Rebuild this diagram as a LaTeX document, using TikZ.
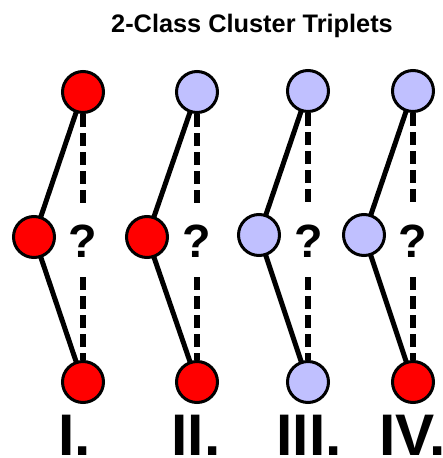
\documentclass[tikz,border=0pt]{standalone}
\usepackage{fontspec}
\setmainfont{Liberation Sans}
\usetikzlibrary{backgrounds}
\definecolor{clsred}{HTML}{FF0000}
\definecolor{clsblue}{HTML}{C0C0FF}
\tikzset{
  pt/.style={circle, draw=black, line width=2.25pt, minimum size=30.75pt, inner sep=0pt},
  redpt/.style={pt, fill=clsred},
  bluept/.style={pt, fill=clsblue},
  link/.style={line width=3.75pt, black},
  unknown/.style={line width=4.2pt, black, dash pattern=on 9.75pt off 4.5pt},
  qmark/.style={anchor=base, inner sep=0pt, font=\bfseries\fontsize{35}{35}\selectfont},
  roman/.style={anchor=base, inner sep=0pt, font=\bfseries\fontsize{44}{44}\selectfont},
}
\begin{document}
\begin{tikzpicture}[x=0.75pt, y=-0.75pt]
  \useasboundingbox (0,0) rectangle (443,458);

  \node[anchor=base, font=\bfseries\fontsize{19}{19}\selectfont] (title) at (252,32) {2-Class Cluster Triplets};

  % triplet I
  \node[redpt] (t1) at (83,92) {};
  \node[redpt] (m1) at (34,237) {};
  \node[redpt] (b1) at (83,382) {};
  \node[qmark] (q1) at (83,257) {?};
  \node[roman] (l1) at (74.5,455) {I.};

  % triplet II
  \node[bluept] (t2) at (197,92) {};
  \node[redpt] (m2) at (147,237) {};
  \node[redpt] (b2) at (197,382) {};
  \node[qmark] (q2) at (197,257) {?};
  \node[roman] (l2) at (196,455) {II.};

  % triplet III
  \node[bluept] (t3) at (308,91) {};
  \node[bluept] (m3) at (259,235) {};
  \node[bluept] (b3) at (308,382) {};
  \node[qmark] (q3) at (309,257) {?};
  \node[roman] (l3) at (309,455) {III.};

  % triplet IV
  \node[bluept] (t4) at (413,91) {};
  \node[bluept] (m4) at (364,235) {};
  \node[redpt] (b4) at (413,382) {};
  \node[qmark] (q4) at (413,257) {?};
  \node[roman] (l4) at (412.5,455) {IV.};

  % ends of the dashed line above and below each question mark
  \foreach \i in {1,2,3,4} {
    \path (t\i.center) ++(0,116) coordinate (qa\i);
    \path (b\i.center) ++(0,-105) coordinate (qb\i);
  }

  \begin{pgfonlayer}{background}
    \foreach \i in {1,2,3,4} {
      \draw[link] (t\i.center) -- (m\i.center) -- (b\i.center);
      \draw[unknown] (t\i.south) -- (qa\i);
      \draw[unknown] (qb\i) -- (b\i.north);
    }
  \end{pgfonlayer}
\end{tikzpicture}
\end{document}
